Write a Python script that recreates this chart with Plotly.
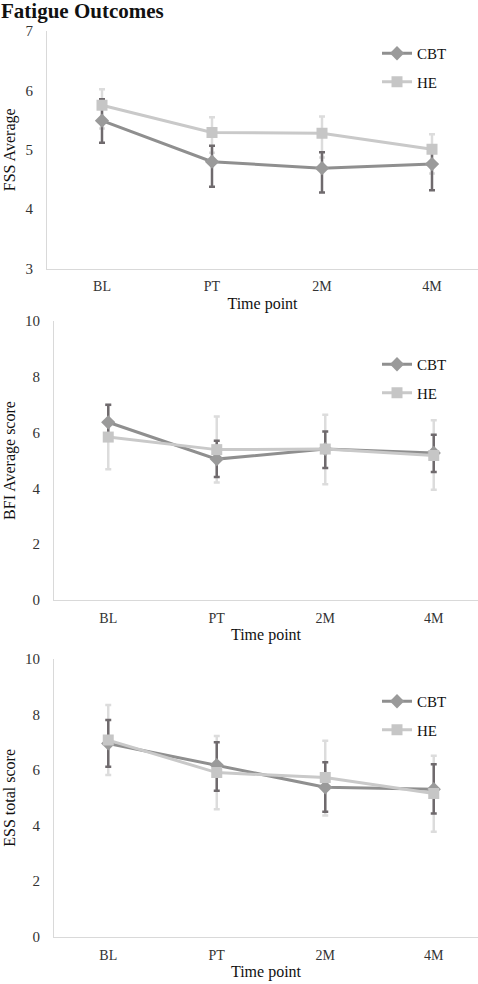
import plotly.graph_objects as go

timepoints = ["BL", "PT", "2M", "4M"]
series_names = ["CBT", "HE"]

# FSS Average
fss_cbt = [5.49, 4.80, 4.69, 4.76]
fss_cbt_hi = [5.85, 5.07, 4.96, 5.00]
fss_cbt_lo = [5.12, 4.38, 4.28, 4.32]
fss_he = [5.75, 5.29, 5.28, 5.01]
fss_he_hi = [6.02, 5.55, 5.56, 5.26]
fss_he_lo = [5.36, 4.95, 4.87, 4.60]

# BFI Average score
bfi_cbt = [6.37, 5.05, 5.41, 5.27]
bfi_cbt_hi = [7.00, 5.71, 6.04, 5.92]
bfi_cbt_lo = [5.75, 4.41, 4.73, 4.59]
bfi_he = [5.84, 5.39, 5.41, 5.18]
bfi_he_hi = [6.99, 6.58, 6.64, 6.44]
bfi_he_lo = [4.69, 4.21, 4.15, 3.95]

# ESS total score
ess_cbt = [6.96, 6.18, 5.38, 5.31]
ess_cbt_hi = [7.80, 7.00, 6.28, 6.21]
ess_cbt_lo = [6.12, 5.26, 4.50, 4.44]
ess_he = [7.08, 5.91, 5.73, 5.16]
ess_he_hi = [8.34, 7.23, 7.06, 6.52]
ess_he_lo = [5.82, 4.59, 4.36, 3.78]

panels = [
    ("FSS Average", fss_cbt, fss_cbt_hi, fss_cbt_lo, fss_he, fss_he_hi, fss_he_lo),
    ("BFI Average score", bfi_cbt, bfi_cbt_hi, bfi_cbt_lo, bfi_he, bfi_he_hi, bfi_he_lo),
    ("ESS total score", ess_cbt, ess_cbt_hi, ess_cbt_lo, ess_he, ess_he_hi, ess_he_lo),
]

W, H = 478, 984
ML = 5  # left margin in px
PW = W - ML
FONT = "Liberation Serif, Times New Roman, serif"
CBT_LINE = "#8f8f8f"
CBT_MARK = "#9a9a9a"
CBT_ERR = "#6f6a6d"
HE_LINE = "#c9c9c9"
HE_MARK = "#c6c6c6"
HE_ERR = "#dcdcdc"
AXIS = "#d9d9d9"

# pixel layout: (top px, bottom px, left px, y range, px per category)
geo = [
    (31, 268.6, 47, [3, 7], 110.0),
    (321, 600, 54, [0, 10], 108.5),
    (659, 936.7, 54, [0, 10], 108.5),
]
legend_top = [37, 348, 685]

fig = go.Figure()
for i, (ytitle, c, chi, clo, h, hhi, hlo) in enumerate(panels):
    n = "" if i == 0 else str(i + 1)
    xa, ya = "x" + n, "y" + n
    leg = "legend" + n
    def err(v, hi, lo, color):
        return dict(type="data", symmetric=False,
                    array=[a - b for a, b in zip(hi, v)],
                    arrayminus=[b - a for a, b in zip(lo, v)],
                    color=color, thickness=2.5, width=3)
    # error bars (HE below CBT)
    fig.add_trace(go.Scatter(x=timepoints, y=h, mode="markers", marker=dict(size=0.1, color=HE_ERR),
                             error_y=err(h, hhi, hlo, HE_ERR), showlegend=False, hoverinfo="skip",
                             xaxis=xa, yaxis=ya))
    fig.add_trace(go.Scatter(x=timepoints, y=c, mode="markers", marker=dict(size=0.1, color=CBT_ERR),
                             error_y=err(c, chi, clo, CBT_ERR), showlegend=False, hoverinfo="skip",
                             xaxis=xa, yaxis=ya))
    fig.add_trace(go.Scatter(x=timepoints, y=c, mode="lines+markers", name=series_names[0],
                             line=dict(color=CBT_LINE, width=3),
                             marker=dict(symbol="diamond", size=11, color=CBT_MARK),
                             legend=leg, legendgroup="a" + n, xaxis=xa, yaxis=ya))
    fig.add_trace(go.Scatter(x=timepoints, y=h, mode="lines+markers", name=series_names[1],
                             line=dict(color=HE_LINE, width=3),
                             marker=dict(symbol="square", size=11, color=HE_MARK),
                             legend=leg, legendgroup="b" + n, xaxis=xa, yaxis=ya))

    top, bot, left, yr, step = geo[i]
    xr_max = -0.5 + (W - left) / step
    fig.layout["xaxis" + n] = dict(
        domain=[(left - ML) / PW, 1.0], range=[-0.5, xr_max], type="category",
        showline=True, linecolor=AXIS, linewidth=1, showgrid=False, zeroline=False,
        ticks="", ticklabelstandoff=5, automargin=False,
        tickfont=dict(family=FONT, size=14, color="#333333"),
        title=dict(text="Time point", font=dict(family=FONT, size=16, color="#111111"), standoff=4),
        anchor=ya, fixedrange=True,
    )
    fig.layout["yaxis" + n] = dict(
        domain=[1 - bot / H, 1 - top / H], range=yr, dtick=1 if i == 0 else 2,
        showline=True, linecolor=AXIS, linewidth=1, showgrid=False, zeroline=False,
        ticks="", ticklabelstandoff=10, automargin=False,
        tickfont=dict(family=FONT, size=15, color="#333333"),
        title=dict(text=ytitle, font=dict(family=FONT, size=16, color="#111111"), standoff=5),
        anchor=xa, fixedrange=True,
    )
    fig.layout[leg] = dict(
        x=(377 - ML) / PW, xanchor="left", y=1 - legend_top[i] / H, yanchor="top",
        bgcolor="rgba(0,0,0,0)", tracegroupgap=6,
        font=dict(family=FONT, size=15, color="#111111"),
    )

fig.update_layout(
    width=W, height=H,
    margin=dict(l=ML, r=0, t=0, b=0, pad=0, autoexpand=False),
    paper_bgcolor="white", plot_bgcolor="white",
    title=dict(text="<b>Fatigue Outcomes</b>", x=0.0, xanchor="left", xref="container",
               y=1 - 11 / H, yanchor="middle", yref="container", automargin=False,
               pad=dict(l=1, r=0, t=0, b=0),
               font=dict(family=FONT, size=21, color="#111111")),
    showlegend=True,
)

fig.write_html("out.html", config={"displayModeBar": False},
               post_script="document.body.style.margin='0';")
